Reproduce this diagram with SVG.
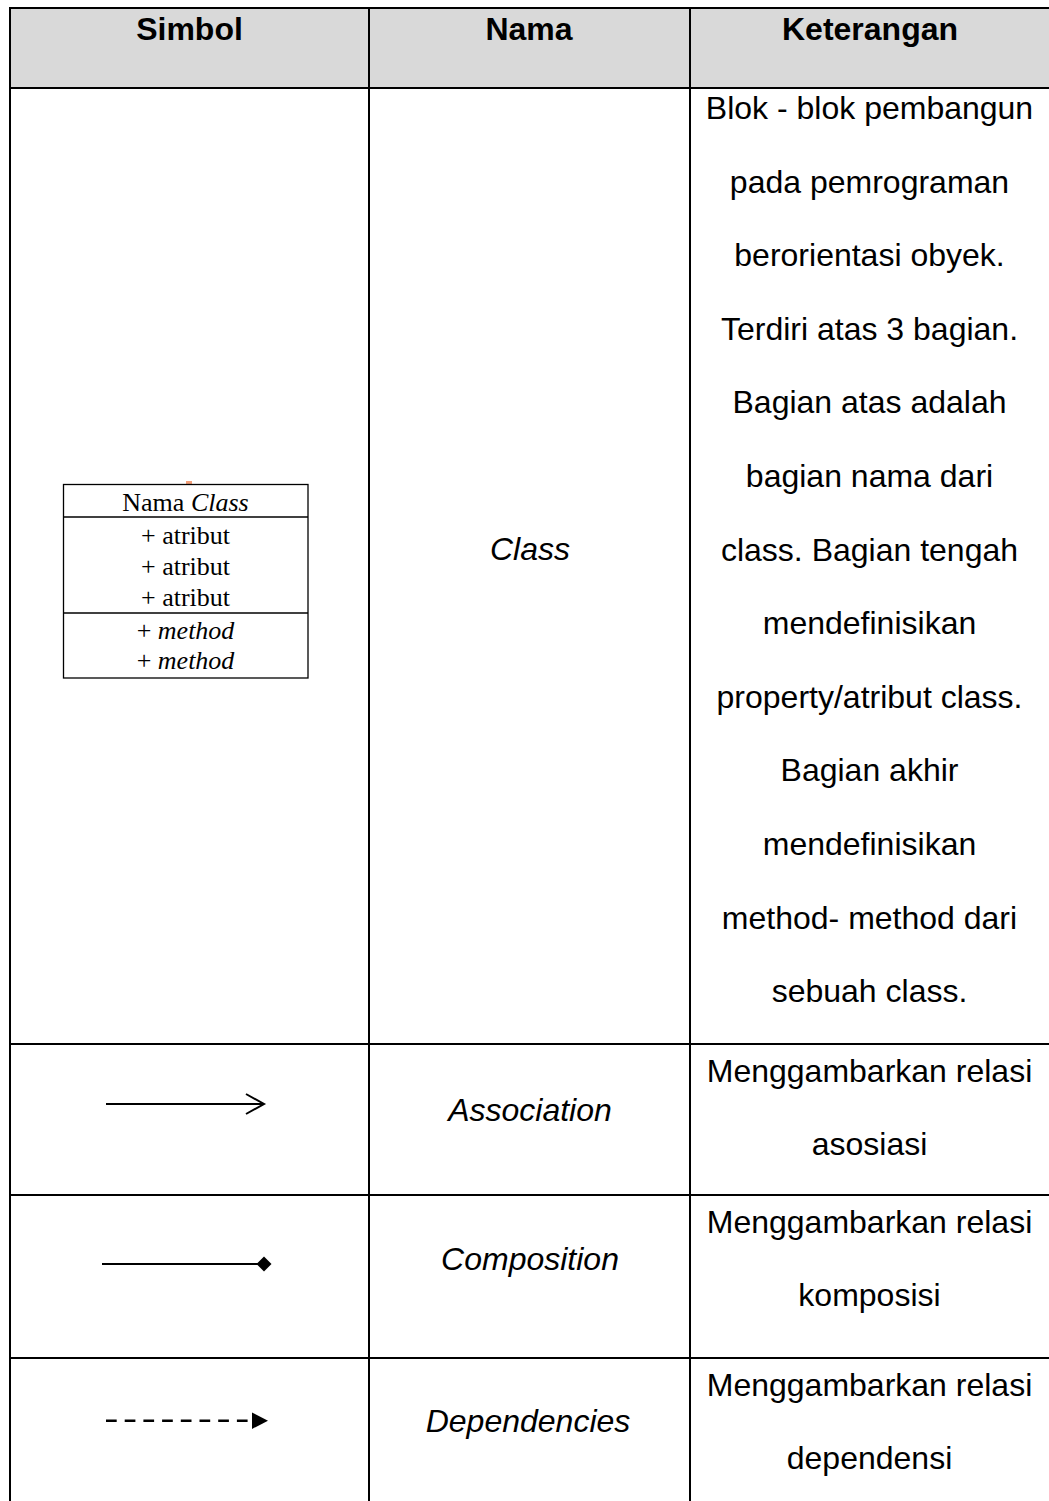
<svg xmlns="http://www.w3.org/2000/svg" width="1049" height="1501" viewBox="0 0 1049 1501">
<style>
.grid{stroke:#000;stroke-width:2;fill:none}
.hd{font-family:"Liberation Sans",Arial,sans-serif;font-size:32px;font-weight:bold;fill:#000;text-anchor:middle}
.nm{font-family:"Liberation Sans",Arial,sans-serif;font-size:32px;font-style:italic;fill:#000;text-anchor:middle}
.ds{font-family:"Liberation Sans",Arial,sans-serif;font-size:32px;fill:#000;text-anchor:middle}
.cb{stroke:#000;stroke-width:1.3;fill:#fff}
.ct{font-family:"Liberation Serif","Times New Roman",serif;font-size:26px;fill:#000;text-anchor:middle}
.ln{stroke:#000;stroke-width:2;fill:none}
</style>
<rect x="0" y="0" width="1049" height="1501" fill="#fff"/>
<g id="table-grid">
<rect x="10" y="8" width="1039" height="80" fill="#d9d9d9"/>
<line class="grid" x1="9" y1="8" x2="1049" y2="8"/>
<line class="grid" x1="9" y1="88" x2="1049" y2="88"/>
<line class="grid" x1="10" y1="7" x2="10" y2="1501"/>
<line class="grid" x1="369" y1="7" x2="369" y2="1501"/>
<line class="grid" x1="690" y1="7" x2="690" y2="1501"/>
<line class="grid" x1="9" y1="1044" x2="1049" y2="1044"/>
<line class="grid" x1="9" y1="1195" x2="1049" y2="1195"/>
<line class="grid" x1="9" y1="1358" x2="1049" y2="1358"/>
</g>
<g id="header">
<text class="hd" x="189.5" y="40">Simbol</text>
<text class="hd" x="529" y="40">Nama</text>
<text class="hd" x="870" y="40">Keterangan</text>
</g>
<g id="row-class">
<g id="class-symbol">
<rect x="186" y="481" width="6" height="3" fill="#f4a07a"/>
<rect class="cb" x="63.5" y="484.5" width="244.5" height="193.5"/>
<line class="cb" x1="63.5" y1="517" x2="308" y2="517"/>
<line class="cb" x1="63.5" y1="613" x2="308" y2="613"/>
<text class="ct" x="185.5" y="511">Nama <tspan font-style="italic">Class</tspan></text>
<text class="ct" x="185.5" y="544">+ atribut</text>
<text class="ct" x="185.5" y="575">+ atribut</text>
<text class="ct" x="185.5" y="606">+ atribut</text>
<text class="ct" x="185.5" y="639">+ <tspan font-style="italic">method</tspan></text>
<text class="ct" x="185.5" y="669">+ <tspan font-style="italic">method</tspan></text>
</g>
<text class="nm" x="530" y="560">Class</text>
<g id="class-desc">
<text class="ds" x="869.5" y="119">Blok - blok pembangun</text>
<text class="ds" x="869.5" y="192.6">pada pemrograman</text>
<text class="ds" x="869.5" y="266.2">berorientasi obyek.</text>
<text class="ds" x="869.5" y="339.8">Terdiri atas 3 bagian.</text>
<text class="ds" x="869.5" y="413.4">Bagian atas adalah</text>
<text class="ds" x="869.5" y="487">bagian nama dari</text>
<text class="ds" x="869.5" y="560.6">class. Bagian tengah</text>
<text class="ds" x="869.5" y="634.2">mendefinisikan</text>
<text class="ds" x="869.5" y="707.8">property/atribut class.</text>
<text class="ds" x="869.5" y="781.4">Bagian akhir</text>
<text class="ds" x="869.5" y="855">mendefinisikan</text>
<text class="ds" x="869.5" y="928.6">method- method dari</text>
<text class="ds" x="869.5" y="1002.2">sebuah class.</text>
</g>
</g>
<g id="row-association">
<text class="nm" x="530" y="1121">Association</text>
<text class="ds" x="869.5" y="1082">Menggambarkan relasi</text>
<text class="ds" x="869.5" y="1155">asosiasi</text>
</g>
<g id="row-composition">
<text class="nm" x="530" y="1270">Composition</text>
<text class="ds" x="869.5" y="1233">Menggambarkan relasi</text>
<text class="ds" x="869.5" y="1306">komposisi</text>
</g>
<g id="row-dependencies">
<text class="nm" x="528" y="1432">Dependencies</text>
<text class="ds" x="869.5" y="1396">Menggambarkan relasi</text>
<text class="ds" x="869.5" y="1469">dependensi</text>
</g>
<g id="connectors">
<g id="association-arrow">
<line class="ln" x1="106" y1="1104" x2="263" y2="1104"/>
<polyline class="ln" points="246,1094 264,1104 246,1114" stroke-linejoin="miter"/>
</g>
<g id="composition-arrow">
<line class="ln" x1="102" y1="1264" x2="258" y2="1264"/>
<polygon points="256.5,1264 264,1256.5 271.5,1264 264,1271.5" fill="#000"/>
</g>
<g id="dependency-arrow">
<line x1="106" y1="1420.7" x2="252" y2="1420.7" stroke="#000" stroke-width="2.5" stroke-dasharray="10.7 8"/>
<polygon points="252,1412.5 268,1420.7 252,1428.9" fill="#000"/>
</g>
</g>
</svg>
